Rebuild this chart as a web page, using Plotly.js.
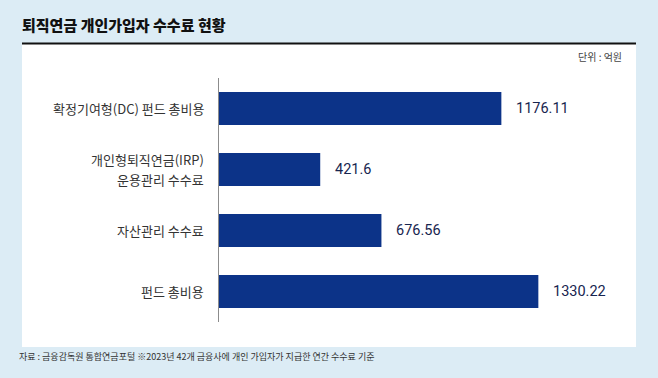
<!DOCTYPE html>
<html>
<head>
<meta charset="utf-8">
<script src="https://cdn.plot.ly/plotly-3.0.1.min.js"></script>
<style>
html,body{margin:0;padding:0;background:#dcecf5;}
#chart{width:658px;height:378px;}
</style>
</head>
<body>
<div id="chart"></div>
<script>
const categories = ['확정기여형(DC) 펀드 총비용', '개인형퇴직연금(IRP)<br>운용관리 수수료', '자산관리 수수료', '펀드 총비용'];
const values = [1176.11, 421.6, 676.56, 1330.22];
const valueLabels = ['1176.11', '421.6', '676.56', '1330.22'];
const titleText = '퇴직연금 개인가입자 수수료 현황';
const unitText = '단위 : 억원';
const sourceText = '자료 : 금융감독원 통합연금포털 ※2023년 42개 금융사에 개인 가입자가 지급한 연간 수수료 기준';

const W = 658, H = 378;
const L = 219, R = 58, T = 78, B = 56;
const PW = W - L - R, PH = H - T - B;
const X = px => (px - L) / PW;
const Y = py => (H - B - py) / PH;
const KR = '"Noto Sans CJK KR", "Noto Sans", sans-serif';

const valueAnns = values.map((v, i) => ({
  x: v, y: categories[i], xref: 'x', yref: 'y',
  text: valueLabels[i], showarrow: false,
  xanchor: 'left', yanchor: 'middle', xshift: 13,
  font: {family: 'Roboto, "Noto Sans", sans-serif', size: 14.5, color: '#17254f'}
}));

// category labels, one annotation per line so multi-line labels get the reference's spacing
const catAnns = [];
categories.forEach(cat => {
  const lines = cat.split('<br>');
  const n = lines.length;
  lines.forEach((ln, j) => {
    catAnns.push({
      x: 0, y: cat, xref: 'x', yref: 'y',
      text: ln, showarrow: false,
      xanchor: 'right', yanchor: 'middle', xshift: -13,
      yshift: ((n - 1) / 2 - j) * 20,
      font: {family: KR, size: 13, color: '#333'}
    });
  });
});

const data = [{
  type: 'bar', orientation: 'h',
  x: values, y: categories,
  marker: {color: '#0c3388'},
  hoverinfo: 'none'
}];

const layout = {
  width: W, height: H,
  margin: {l: L, r: R, t: T, b: B, pad: 0},
  paper_bgcolor: '#dcecf5',
  plot_bgcolor: 'rgba(0,0,0,0)',
  showlegend: false,
  bargap: 0.46,
  title: {
    text: titleText,
    xref: 'container', yref: 'container',
    x: 22 / W, xanchor: 'left',
    y: 1 - 26 / H, yanchor: 'middle',
    font: {family: KR, size: 15, color: '#111', weight: 900}
  },
  xaxis: {
    range: [0, 1587], showgrid: false, zeroline: false,
    showticklabels: false, showline: false, fixedrange: true
  },
  yaxis: {
    type: 'category', autorange: 'reversed',
    showgrid: false, zeroline: false,
    showline: true, linecolor: '#8c8c8c', linewidth: 1,
    ticks: '', showticklabels: false,
    fixedrange: true
  },
  shapes: [
    {type: 'rect', xref: 'paper', yref: 'paper', x0: X(22), x1: X(636), y0: Y(347), y1: Y(44),
     fillcolor: '#ffffff', line: {width: 0}, layer: 'below'},
    {type: 'line', xref: 'paper', yref: 'paper', x0: X(22), x1: X(636), y0: Y(43.5), y1: Y(43.5),
     line: {color: '#111', width: 2}}
  ],
  annotations: [
    {xref: 'paper', yref: 'paper', x: X(624), y: Y(57), xanchor: 'right', yanchor: 'middle',
     text: unitText, showarrow: false, font: {family: KR, size: 10, color: '#444'}},
    {xref: 'paper', yref: 'paper', x: X(17), y: Y(356), xanchor: 'left', yanchor: 'middle',
     text: sourceText, showarrow: false, font: {family: KR, size: 9, color: '#333'}}
  ].concat(catAnns, valueAnns)
};

Plotly.newPlot('chart', data, layout, {displayModeBar: false, staticPlot: true});
</script>
</body>
</html>
